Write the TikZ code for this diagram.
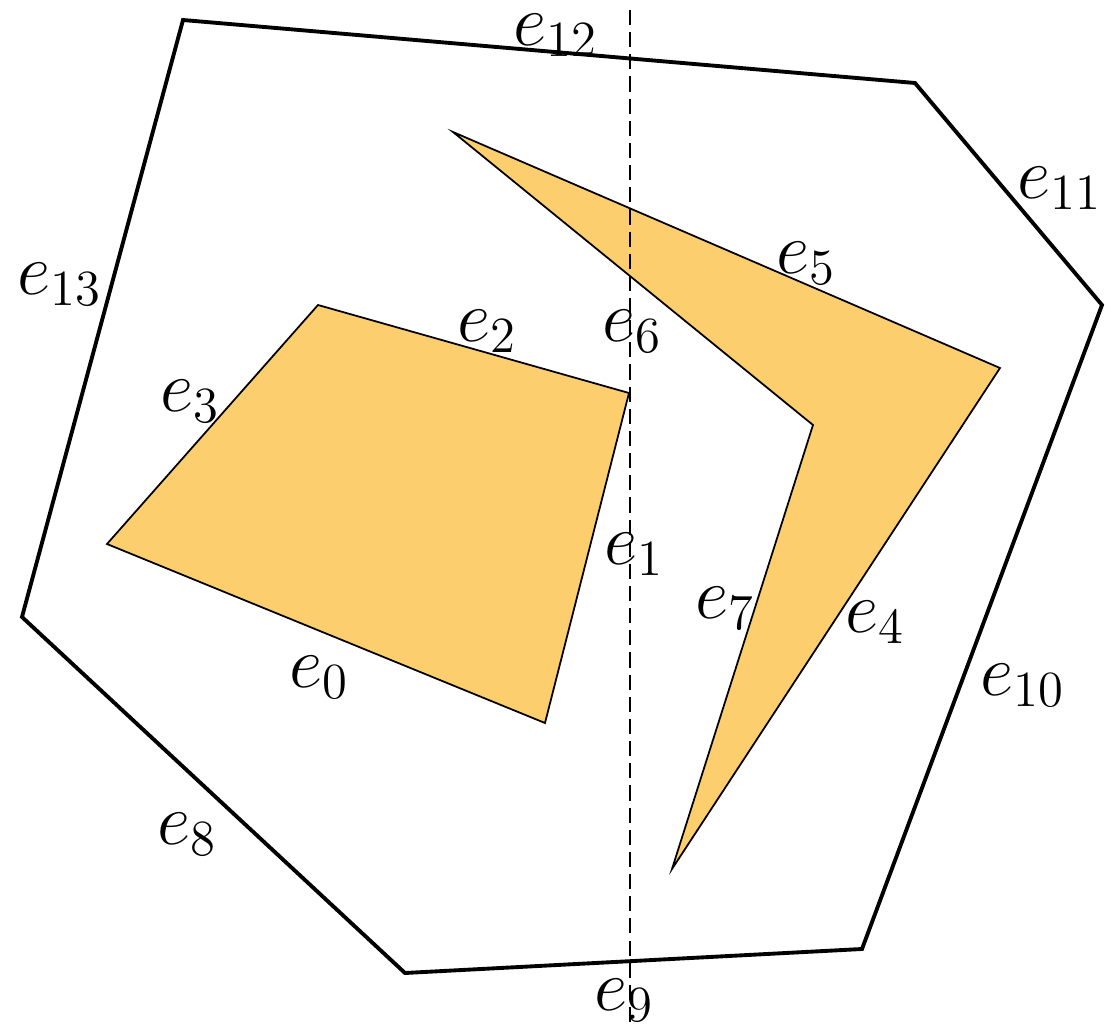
\documentclass[tikz,border=0pt]{standalone}
\usepackage{amsmath,amssymb}
\usepackage{tikz}
\usetikzlibrary{positioning,calc}
\definecolor{HoleYellow}{RGB}{253,206,110}
\tikzset{
  wall/.style={draw=black,line width=1.1pt,line join=miter},
  hole/.style={draw=black,fill=HoleYellow,line width=0.5pt,line join=miter},
  sweep/.style={draw=black,dash pattern=on 4.3pt off 2pt,line width=0.45pt},
}
\tikzset{lab/.style={inner sep=0pt,font=\fontsize{20}{24}\selectfont}}

\begin{document}
\begin{tikzpicture}[x=0.01cm,y=-0.01cm]
\useasboundingbox (0,0) rectangle (1105,1027);
% outer boundary
\coordinate (o1) at (183,20);
\coordinate (o2) at (915,83);
\coordinate (o3) at (1102,305);
\coordinate (o4) at (862,949);
\coordinate (o5) at (405,973);
\coordinate (o6) at (22,617);
% quadrilateral hole
\coordinate (q1) at (107,544);
\coordinate (q2) at (545,723);
\coordinate (q3) at (629,393);
\coordinate (q4) at (318,305);
% boomerang hole
\coordinate (b1) at (453,132);
\coordinate (b2) at (1000,368);
\coordinate (b3) at (672,869);
\coordinate (b4) at (813,425);
% sweep line
\coordinate (s1) at (630,10);
\coordinate (s2) at (630,1027);
\draw[wall] (o1) -- (o2) -- (o3) -- (o4) -- (o5) -- (o6) -- cycle;
\draw[hole] (q1) -- (q2) -- (q3) -- (q4) -- cycle;
\draw[hole] (b1) -- (b2) -- (b3) -- (b4) -- cycle;
\draw[sweep] (s1) -- (s2);
\node[lab] (l0) at (319,677) {$e_0$};
\node[lab] (l1) at (634,554) {$e_1$};
\node[lab] (l2) at (487,331) {$e_2$};
\node[lab] (l3) at (190,401) {$e_3$};
\node[lab] (l4) at (875,622) {$e_4$};
\node[lab] (l5) at (806,263) {$e_5$};
\node[lab] (l6) at (632,331) {$e_6$};
\node[lab] (l7) at (725,608) {$e_7$};
\node[lab] (l8) at (187,834) {$e_8$};
\node[lab] (l9) at (624,1000) {$e_9$};
\node[lab] (l10) at (1023,685) {$e_{10}$};
\node[lab] (l11) at (1060,188) {$e_{11}$};
\node[lab] (l12) at (556,35) {$e_{12}$};
\node[lab] (l13) at (60,284) {$e_{13}$};
\end{tikzpicture}
\end{document}
